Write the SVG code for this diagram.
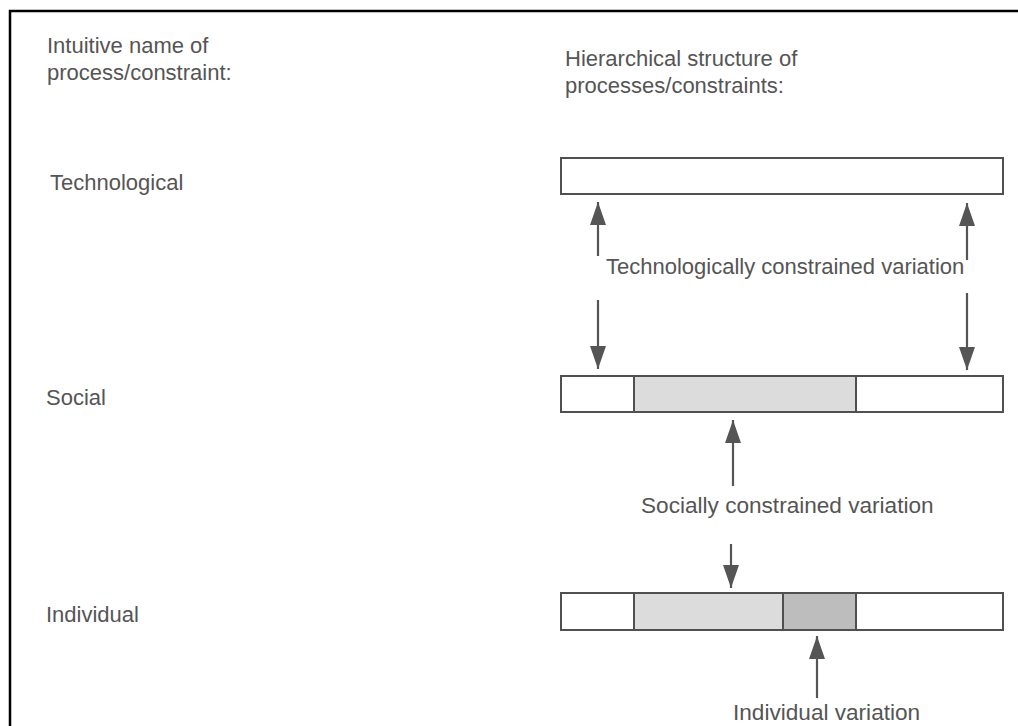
<svg xmlns="http://www.w3.org/2000/svg" width="1018" height="726" viewBox="0 0 1018 726">
  <style>
    text { font-family: "Liberation Sans", Arial, sans-serif; font-size: 22px; fill: #555; }
    .big { font-size: 22.6px; }
    .bar { fill: #fff; stroke: #505050; stroke-width: 2; }
    .light { fill: #dcdcdc; stroke: #505050; stroke-width: 2; }
    .dark { fill: #bdbdbd; stroke: #505050; stroke-width: 2; }
    .conn { stroke: #555; stroke-width: 2.2; fill: none; marker-end: url(#head); }
    .frame { stroke: #000; stroke-width: 2.5; fill: none; }
  </style>
  <defs>
    <marker id="head" markerUnits="userSpaceOnUse" markerWidth="24" markerHeight="17" refX="23" refY="8" orient="auto">
      <path d="M0,0 L23,8 L0,16 z" fill="#555"/>
    </marker>
  </defs>
  <rect width="1018" height="726" fill="#fff"/>
  <path class="frame" d="M10,726 L10,11 L1018,11"/>

  <g id="headers">
    <text x="47" y="53">Intuitive name of</text>
    <text x="47" y="80">process/constraint:</text>
    <text x="565" y="66">Hierarchical structure of</text>
    <text x="565" y="93">processes/constraints:</text>
  </g>

  <g id="label-technological"><text x="50" y="190">Technological</text></g>
  <g id="label-social"><text x="46" y="405">Social</text></g>
  <g id="label-individual"><text x="46" y="622">Individual</text></g>

  <g id="bar-technological">
    <rect class="bar" x="561" y="158" width="442" height="36"/>
  </g>
  <g id="bar-social">
    <rect class="bar" x="561" y="376" width="442" height="36"/>
    <rect class="light" x="634" y="376" width="222" height="36"/>
  </g>
  <g id="bar-individual">
    <rect class="bar" x="561" y="593" width="442" height="37"/>
    <rect class="light" x="634" y="593" width="149" height="37"/>
    <rect class="dark" x="783" y="593" width="73" height="37"/>
  </g>

  <g id="connectors">
    <line class="conn" x1="598" y1="256" x2="598" y2="202"/>
    <line class="conn" x1="967" y1="260" x2="967" y2="203"/>
    <line class="conn" x1="598" y1="300" x2="598" y2="369"/>
    <line class="conn" x1="967" y1="293" x2="967" y2="370"/>
    <line class="conn" x1="733" y1="486" x2="733" y2="420"/>
    <line class="conn" x1="731" y1="544" x2="731" y2="588"/>
    <line class="conn" x1="817" y1="698" x2="817" y2="636"/>
  </g>

  <g id="connector-labels">
    <text x="606" y="274">Technologically constrained variation</text>
    <text class="big" x="641" y="513">Socially constrained variation</text>
    <text class="big" x="733" y="720">Individual variation</text>
  </g>
</svg>
